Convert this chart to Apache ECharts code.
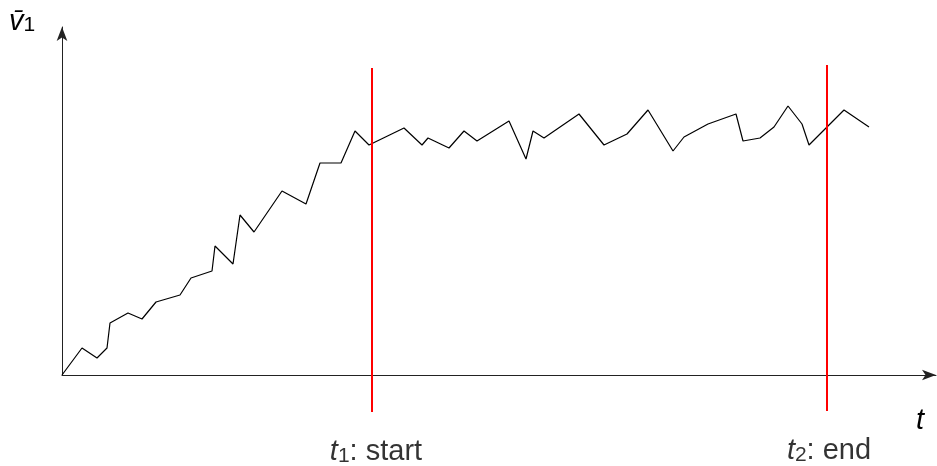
<!DOCTYPE html>
<html>
<head>
<meta charset="utf-8">
<script src="https://cdn.jsdelivr.net/npm/echarts@6/dist/echarts.min.js"></script>
<style>
  html, body { margin: 0; padding: 0; background: #fff; }
  #chart { width: 937px; height: 466px; }
</style>
</head>
<body>
<div id="chart"></div>
<script>
// time t and average velocity v̄1 (arbitrary units)
const tValues = [0, 20, 35, 45, 48, 66, 80, 94, 118, 129, 150, 153, 171, 178, 192, 220, 244, 258, 279, 293, 307,
  342, 360, 366, 387, 402, 415, 447, 464, 471, 482, 517, 542, 565, 586, 611, 622, 646, 674, 681, 698, 712, 726,
  740, 747, 782, 807];
const vValues = [0, 27, 17, 27, 52, 62, 56, 73, 80, 97, 104, 129, 111, 160, 143, 184, 171, 212, 212, 244, 230,
  247, 230, 237, 227, 244, 234, 254, 216, 244, 237, 261, 230, 241, 265, 224, 238, 251, 261, 234, 237, 248, 269,
  251, 230, 265, 248];

// averaging window markers
const markerT = [310, 765];
const markerSub = ['1', '2'];
const markerText = [': start', ': end'];
const markerLow = [-37, -36];
const markerHigh = [307, 310];

const FONT = '"Liberation Sans", Arial, Helvetica, sans-serif';

const chart = echarts.init(document.getElementById('chart'), null, { renderer: 'canvas' });

const markerSeries = markerT.map(function (t, i) {
  return {
    type: 'line',
    clip: false,
    silent: true,
    symbol: 'none',
    lineStyle: { color: '#ff0000', width: 2 },
    z: 4,
    data: [[t, markerLow[i]], [t, markerHigh[i]]]
  };
});

// labels under the marker lines
const labelSeries = {
  type: 'scatter',
  clip: false,
  silent: true,
  symbolSize: 1,
  itemStyle: { color: 'rgba(255,255,255,0)' },
  z: 5,
  data: markerT.map(function (t, i) {
    return {
      value: [t, markerLow[i]],
      label: {
        show: true,
        position: 'bottom',
        distance: 25,
        offset: [i === 0 ? 4 : 2, 0],
        formatter: '{i|t}{s|' + markerSub[i] + '}{n|' + markerText[i] + '}',
        rich: {
          i: { fontFamily: FONT, fontStyle: 'italic', fontSize: 29, color: '#000' },
          s: { fontFamily: FONT, fontSize: 21, color: '#000', verticalAlign: 'bottom' },
          n: { fontFamily: FONT, fontSize: 29, color: '#000' }
        }
      }
    };
  })
};

chart.setOption({
  animation: false,
  grid: { left: 62, right: 1, top: 27, bottom: 91, outerBoundsMode: 'none' },
  xAxis: {
    type: 'value', min: 0, max: 874,
    axisLine: { show: true, symbol: ['none', 'arrow'], symbolSize: [8, 14], lineStyle: { color: '#222', width: 1 } },
    axisTick: { show: false },
    axisLabel: { show: false },
    splitLine: { show: false }
  },
  yAxis: {
    type: 'value', min: 0, max: 348,
    axisLine: { show: true, symbol: ['none', 'arrow'], symbolSize: [8, 14], lineStyle: { color: '#222', width: 1 } },
    axisTick: { show: false },
    axisLabel: { show: false },
    splitLine: { show: false }
  },
  graphic: [
    {
      type: 'text', left: 9, top: 7,
      style: {
        text: '{v|v\u0304}{s|1}',
        rich: {
          v: { fontFamily: FONT, fontStyle: 'italic', fontSize: 29, fill: '#000' },
          s: { fontFamily: FONT, fontSize: 21, fill: '#000', verticalAlign: 'bottom' }
        }
      }
    },
    {
      type: 'text', left: 916, top: 406,
      style: { text: 't', fontFamily: FONT, fontStyle: 'italic', fontSize: 29, fill: '#000' }
    }
  ],
  series: [
    {
      type: 'line',
      symbol: 'none',
      silent: true,
      lineStyle: { color: '#000', width: 1.2 },
      z: 3,
      data: tValues.map(function (t, i) { return [t, vValues[i]]; })
    }
  ].concat(markerSeries, [labelSeries])
});
</script>
</body>
</html>
